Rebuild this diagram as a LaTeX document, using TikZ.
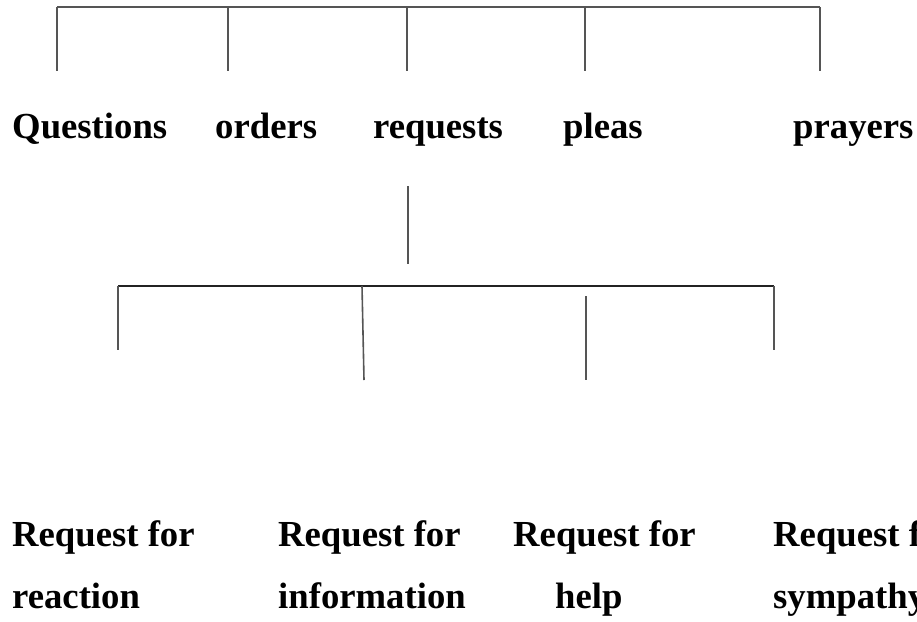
\documentclass[tikz,border=0pt]{standalone}
\usepackage{fontspec}
\setmainfont{Liberation Serif}
\usepackage{tikz}
\usetikzlibrary{positioning}
\definecolor{linegray}{RGB}{85,85,85}
\definecolor{bargray}{RGB}{35,35,35}

\begin{document}
\begin{tikzpicture}[
  x=1pt, y=-1pt,
  lbl/.style = {
    anchor=base west, inner sep=0pt,
    font=\fontsize{36.7}{44}\selectfont\bfseries
  },
  ln/.style  = {line width=1.6pt, linegray},
  bar/.style = {line width=1.3pt, bargray}
]
  \clip (0,0) rectangle (917,621);

  \node[lbl] (quest) at (12,138)  {Questions};
  \node[lbl] (ord)   at (215,138) {orders};
  \node[lbl] (req)   at (373,138) {requests};
  \node[lbl] (plea)  at (563,138) {pleas};
  \node[lbl] (pray)  at (793,138) {prayers};

  \node[lbl] (reac1) at (12,546)  {Request for};
  \node[lbl] (reac2) at (12,608)  {reaction};
  \node[lbl] (info1) at (278,546) {Request for};
  \node[lbl] (info2) at (278,608) {information};
  \node[lbl] (help1) at (513,546) {Request for};
  \node[lbl] (help2) at (555,608) {help};
  \node[lbl] (symp1) at (773,546) {Request for};
  \node[lbl] (symp2) at (773,608) {sympathy};

  \coordinate (tq) at (57,7);   \coordinate (tqe) at (57,71);
  \coordinate (to) at (228,7);  \coordinate (toe) at (228,71);
  \coordinate (tr) at (407,7);  \coordinate (tre) at (407,71);
  \coordinate (tp) at (585,7);  \coordinate (tpe) at (585,71);
  \coordinate (ty) at (820,7);  \coordinate (tye) at (820,71);

  \coordinate (rs) at (408,186); \coordinate (rse) at (408,264);

  \coordinate (ba) at (118,286); \coordinate (bae) at (118,350);
  \coordinate (bi) at (362,286); \coordinate (bie) at (364,380);
  \coordinate (bh) at (586,296); \coordinate (bhe) at (586,380);
  \coordinate (bs) at (774,286); \coordinate (bse) at (774,350);

  \draw[ln] (tq) -- (ty);
  \draw[ln] (tq) -- (tqe);
  \draw[ln] (to) -- (toe);
  \draw[ln] (tr) -- (tre);
  \draw[ln] (tp) -- (tpe);
  \draw[ln] (ty) -- (tye);

  \draw[ln] (rs) -- (rse);

  \draw[bar] (ba) -- (bs);
  \draw[ln] (ba) -- (bae);
  \draw[ln] (bi) -- (bie);
  \draw[ln] (bh) -- (bhe);
  \draw[ln] (bs) -- (bse);
\end{tikzpicture}
\end{document}
